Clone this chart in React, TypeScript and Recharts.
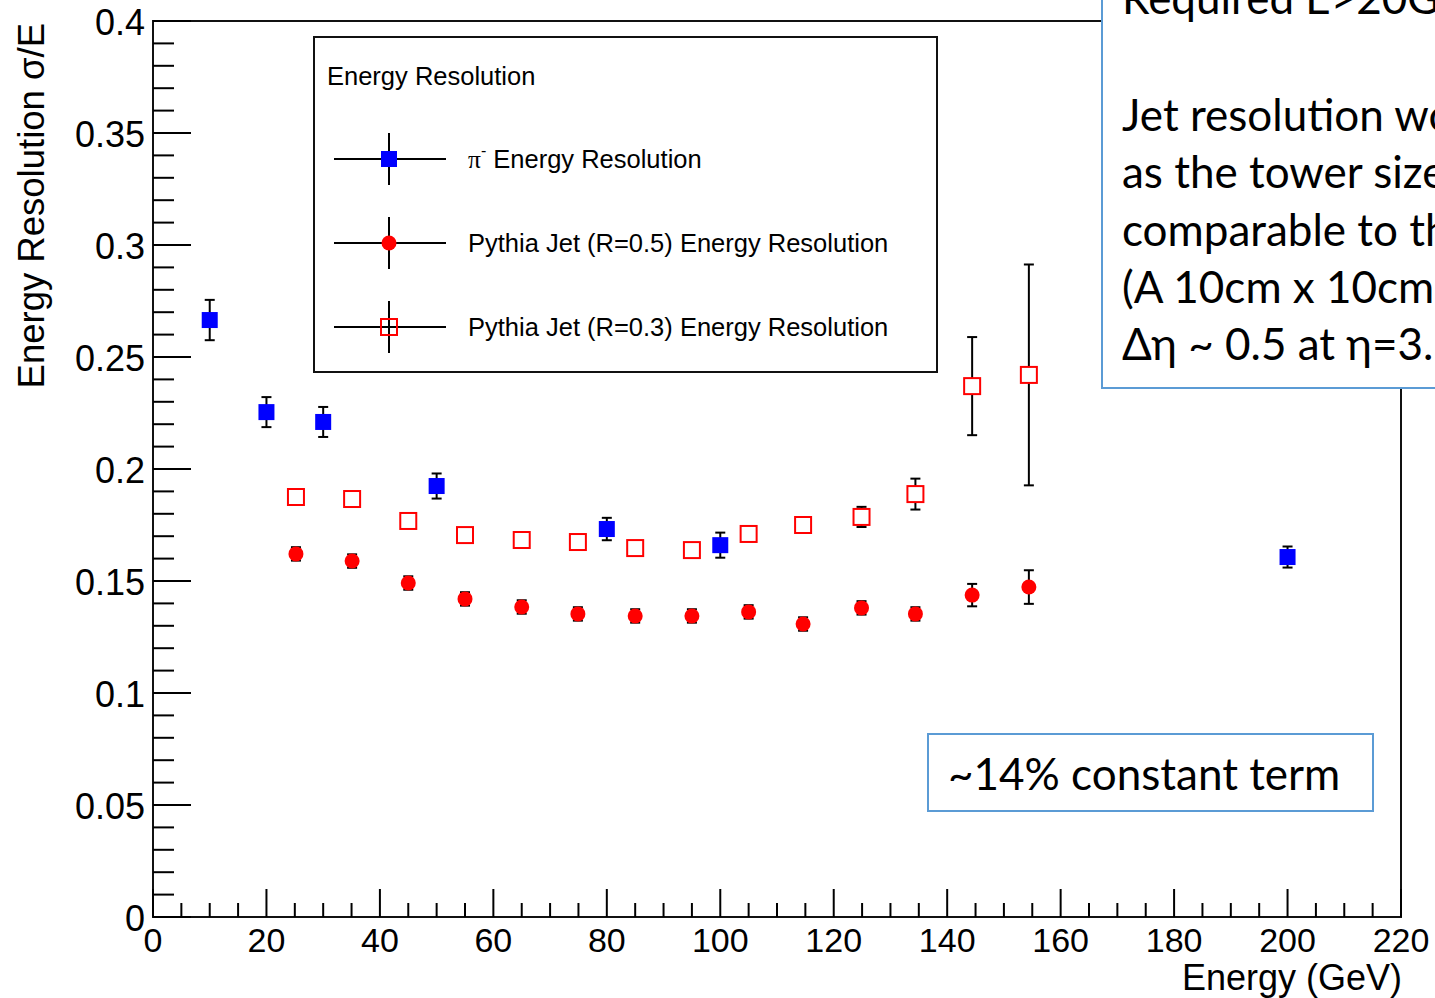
import { ScatterChart, Scatter, XAxis, YAxis, ErrorBar, ReferenceArea, Legend, Label } from 'recharts'

// pi- points
const pionEnergy = [10, 20, 30, 50, 80, 100, 200]
const pionResolution = [0.2665, 0.2254, 0.221, 0.1924, 0.1732, 0.166, 0.1607]
const pionError = [0.009, 0.0067, 0.0067, 0.0056, 0.005, 0.0056, 0.0047]

// pythia jets, same energy bins for both cone sizes
const jetEnergy = [25.2, 35.1, 45, 55, 65, 74.9, 85, 95, 105, 114.6, 124.9, 134.4, 144.4, 154.4]
const jet05Resolution = [0.1621, 0.1589, 0.1491, 0.142, 0.1384, 0.1353, 0.1344, 0.1344, 0.1362, 0.1308, 0.138, 0.1353, 0.1437, 0.1473]
const jet05Error = [0.003, 0.003, 0.003, 0.003, 0.003, 0.003, 0.003, 0.003, 0.003, 0.003, 0.003, 0.003, 0.005, 0.0075]
const jet03Resolution = [0.1875, 0.1866, 0.1768, 0.1705, 0.1683, 0.1674, 0.1647, 0.1638, 0.171, 0.175, 0.1786, 0.1888, 0.237, 0.242]
const jet03Error = [0.003, 0.003, 0.003, 0.003, 0.003, 0.003, 0.003, 0.003, 0.003, 0.003, 0.0045, 0.0069, 0.0219, 0.0493]

const xTicks = Array.from({ length: 45 }, (_, i) => i * 5)
const yTicks = Array.from({ length: 41 }, (_, i) => i / 100)
const xMajorValues = [0, 20, 40, 60, 80, 100, 120, 140, 160, 180, 200, 220]
const xTickLabels = ['0', '20', '40', '60', '80', '100', '120', '140', '160', '180', '200', '220']
const yMajorValues = [0, 0.05, 0.1, 0.15, 0.2, 0.25, 0.3, 0.35, 0.4]
const yTickLabels = ['0', '0.05', '0.1', '0.15', '0.2', '0.25', '0.3', '0.35', '0.4']

const legendTitle = 'Energy Resolution'
const legendLabels = ['Energy Resolution', 'Pythia Jet (R=0.5) Energy Resolution', 'Pythia Jet (R=0.3) Energy Resolution']

const noteLines = ['Required E>20GeV', 'Jet resolution worse', 'as the tower size is', 'comparable to the', '(A 10cm x 10cm', 'Δη ~ 0.5 at η=3.5']
const constantNote = '~14% constant term'

const pionData = pionEnergy.map((x, i) => ({ x, y: pionResolution[i], err: pionError[i] }))
const jet05Data = jetEnergy.map((x, i) => ({ x, y: jet05Resolution[i], err: jet05Error[i] }))
const jet03Data = jetEnergy.map((x, i) => ({ x, y: jet03Resolution[i], err: jet03Error[i] }))

const rootFont = '"Liberation Sans", Arial, Helvetica, sans-serif'
const pptFont = 'Lato, "Open Sans", sans-serif'
const BLUE = '#0000ff'
const RED = '#ff0000'

const findIndex = (list: number[], v: number) => list.findIndex((m) => Math.abs(m - v) < 1e-9)

function XTick(props: any) {
  const { x, y, payload } = props
  const idx = findIndex(xMajorValues, payload.value)
  const major = idx >= 0
  return (
    <g>
      <line x1={x} y1={y} x2={x} y2={y - (major ? 28 : 14)} stroke="#000" strokeWidth={2} />
      {major && (
        <text x={x} y={y + 23} textAnchor="middle" dominantBaseline="central" fontFamily={rootFont} fontSize={34} fill="#000">
          {xTickLabels[idx]}
        </text>
      )}
    </g>
  )
}

function YTick(props: any) {
  const { x, y, payload } = props
  const idx = findIndex(yMajorValues, payload.value)
  const major = idx >= 0
  return (
    <g>
      <line x1={x} y1={y} x2={x + (major ? 38 : 21)} y2={y} stroke="#000" strokeWidth={2} />
      {major && (
        <text x={x - 8} y={y + 1} textAnchor="end" dominantBaseline="central" fontFamily={rootFont} fontSize={36} fill="#000">
          {yTickLabels[idx]}
        </text>
      )}
    </g>
  )
}

const BlueSquare = (p: any) => <rect x={p.cx - 8} y={p.cy - 8} width={16} height={16} fill={BLUE} />
const RedDot = (p: any) => <circle cx={p.cx} cy={p.cy} r={7.5} fill={RED} />
const OpenSquare = (p: any) => (
  <rect x={p.cx - 8} y={p.cy - 8} width={16} height={16} fill="#fff" stroke={RED} strokeWidth={2} />
)

function LegendBox() {
  const rows = [123, 207, 291]
  return (
    <svg width={625} height={337} style={{ display: 'block' }}>
      <rect x={1} y={1} width={623} height={335} fill="#fff" stroke="#111" strokeWidth={2} />
      <text x={14} y={40} dominantBaseline="central" fontFamily={rootFont} fontSize={25.5} fill="#000">
        {legendTitle}
      </text>
      {rows.map((ry, i) => (
        <g key={i}>
          <line x1={21} y1={ry} x2={133} y2={ry} stroke="#000" strokeWidth={2} />
          <line x1={76} y1={ry - 26} x2={76} y2={ry + 26} stroke="#000" strokeWidth={2} />
          {i === 0 && <rect x={68} y={ry - 8} width={16} height={16} fill={BLUE} />}
          {i === 1 && <circle cx={76} cy={ry} r={7.5} fill={RED} />}
          {i === 2 && <rect x={68} y={ry - 8} width={16} height={16} fill="none" stroke={RED} strokeWidth={2} />}
          <text x={155} y={ry} dominantBaseline="central" fontFamily={rootFont} fontSize={25.5} fill="#000">
            {i === 0 && (
              <>
                <tspan fontFamily='"Liberation Serif", serif'>π</tspan>
                <tspan dy={-9} fontSize={16}>-</tspan>
                <tspan dy={9}> </tspan>
              </>
            )}
            {legendLabels[i]}
          </text>
        </g>
      ))}
    </svg>
  )
}

const YTitle = () => (
  <text transform="rotate(-90)" x={-23} y={44} textAnchor="end" fontFamily={rootFont} fontSize={36.5} fill="#000">
    Energy Resolution σ/E
  </text>
)

const XTitle = () => (
  <text x={1402} y={990} textAnchor="end" fontFamily={rootFont} fontSize={36} fill="#000">
    Energy (GeV)
  </text>
)

export default function App() {
  const noteBaselines = [14, 131, 188, 246, 303, 360]
  return (
    <div style={{ position: 'absolute', left: 0, top: 0, width: 1435, height: 998, overflow: 'hidden', background: '#fff' }}>
      <ScatterChart width={1435} height={998} margin={{ top: 21, right: 34, bottom: 0, left: 0 }}>
        <XAxis
          type="number"
          dataKey="x"
          domain={[0, 220]}
          ticks={xTicks}
          interval={0}
          height={81}
          tickSize={0}
          tickMargin={0}
          tickLine={false}
          axisLine={false}
          tick={(p: any) => <XTick {...p} />}
        >
          <Label content={XTitle} />
        </XAxis>
        <YAxis
          type="number"
          dataKey="y"
          domain={[0, 0.4]}
          ticks={yTicks}
          interval={0}
          width={153}
          tickSize={0}
          tickMargin={0}
          tickLine={false}
          axisLine={false}
          tick={(p: any) => <YTick {...p} />}
        >
          <Label content={YTitle} />
        </YAxis>
        <ReferenceArea x1={0} x2={220} y1={0} y2={0.4} fill="none" stroke="#111" strokeWidth={2} />
        <Scatter data={jet03Data} shape={OpenSquare} isAnimationActive={false}>
          <ErrorBar dataKey="err" direction="y" width={5} stroke="#000" strokeWidth={2} />
        </Scatter>
        <Scatter data={jet05Data} shape={RedDot} isAnimationActive={false}>
          <ErrorBar dataKey="err" direction="y" width={5} stroke="#000" strokeWidth={2} />
        </Scatter>
        <Scatter data={pionData} shape={BlueSquare} isAnimationActive={false}>
          <ErrorBar dataKey="err" direction="y" width={5} stroke="#000" strokeWidth={2} />
        </Scatter>
        <Legend
          layout="horizontal"
          verticalAlign="middle"
          align="center"
          content={() => <LegendBox />}
          wrapperStyle={{ left: 313, top: 36, width: 625, height: 337 }}
        />
      </ScatterChart>
      <svg width={1435} height={998} style={{ position: 'absolute', left: 0, top: 0, pointerEvents: 'none' }}>
        <rect x={1102} y={-10} width={400} height={398} fill="#fff" stroke="#5b9bd5" strokeWidth={2} />
        {noteLines.map((line, i) => (
          <text key={i} x={1122} y={noteBaselines[i]} fontFamily={pptFont} fontSize={44} fill="#000">
            {line}
          </text>
        ))}
        <rect x={928} y={734} width={445} height={77} fill="#fff" stroke="#5b9bd5" strokeWidth={2} />
        <text x={948} y={790} fontFamily={pptFont} fontSize={44} fill="#000">
          {constantNote}
        </text>
      </svg>
    </div>
  )
}
